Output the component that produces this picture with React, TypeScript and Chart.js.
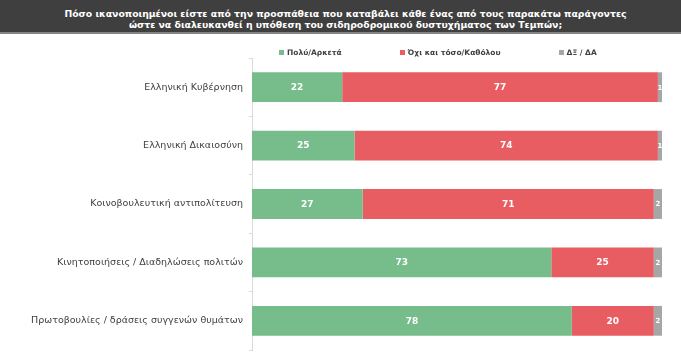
import React, { useEffect, useRef } from "react";
import { Chart, registerables } from "chart.js";

Chart.register(...registerables);

const titleLines = [
  "Πόσο ικανοποιημένοι είστε από την προσπάθεια που καταβάλει κάθε ένας από τους παρακάτω παράγοντες",
  "ώστε να διαλευκανθεί η υπόθεση του σιδηροδρομικού δυστυχήματος των Τεμπών;",
];

const categories = [
  "Ελληνική Κυβέρνηση",
  "Ελληνική Δικαιοσύνη",
  "Κοινοβουλευτική αντιπολίτευση",
  "Κινητοποιήσεις / Διαδηλώσεις πολιτών",
  "Πρωτοβουλίες / δράσεις συγγενών θυμάτων",
];

const seriesNames = ["Πολύ/Αρκετά", "Όχι και τόσο/Καθόλου", "ΔΞ / ΔΑ"];
const muchValues = [22, 25, 27, 73, 78];
const notMuchValues = [77, 74, 71, 25, 20];
const dkValues = [1, 1, 2, 2, 2];
const seriesColors = ["#77bd8b", "#e85d61", "#a6a6a6"];

const FONT = '"DejaVu Sans", sans-serif';

const valueLabels = {
  id: "valueLabels",
  afterDatasetsDraw(chart: any) {
    const ctx = chart.ctx;
    ctx.save();
    ctx.fillStyle = "#ffffff";
    ctx.textAlign = "center";
    ctx.textBaseline = "middle";
    chart.data.datasets.forEach((ds: any, i: number) => {
      const meta = chart.getDatasetMeta(i);
      ctx.font = i === 2 ? `bold 7px ${FONT}` : `bold 9px ${FONT}`;
      meta.data.forEach((el: any, j: number) => {
        const p = el.getProps(["x", "base", "y"], true);
        ctx.fillText(String(ds.data[j]), (p.x + p.base) / 2, p.y + 0.5);
      });
    });
    ctx.restore();
  },
};

export default function App() {
  const canvasRef = useRef<HTMLCanvasElement | null>(null);

  useEffect(() => {
    document.body.style.margin = "0";
    const canvas = canvasRef.current;
    if (!canvas) return;
    const values = [muchValues, notMuchValues, dkValues];
    const chart = new Chart(canvas, {
      type: "bar",
      data: {
        labels: categories,
        datasets: seriesNames.map((name, i) => ({
          label: name,
          data: values[i],
          backgroundColor: seriesColors[i],
          borderWidth: 0,
          categoryPercentage: 1,
          barPercentage: 0.51,
        })),
      },
      options: {
        indexAxis: "y",
        animation: false,
        responsive: false,
        maintainAspectRatio: false,
        layout: { padding: { top: 58, bottom: 12, left: 0, right: 19 } },
        plugins: {
          legend: { display: false },
          tooltip: { enabled: false },
          title: { display: false },
        },
        scales: {
          x: {
            stacked: true,
            display: false,
            min: 0,
            max: 100,
          },
          y: {
            stacked: true,
            afterFit: (scale: any) => {
              scale.width = 252;
            },
            grid: {
              offset: true,
              drawOnChartArea: false,
              tickLength: 3,
              color: "#d9d9d9",
            },
            border: { color: "#d9d9d9", width: 1 },
            ticks: {
              padding: 6,
              color: "#404040",
              font: { family: FONT, size: 9.5 },
            },
          },
        },
      },
      plugins: [valueLabels],
    });
    return () => chart.destroy();
  }, []);

  return (
    <div style={{ position: "relative", width: 681, height: 362, overflow: "hidden", background: "#fff" }}>
      <style>{"body{margin:0}"}</style>
      <canvas
        ref={canvasRef}
        width={681}
        height={362}
        style={{ position: "absolute", left: 0, top: 0, width: 681, height: 362 }}
      />
      <div
        style={{
          position: "absolute",
          left: 0,
          top: 0,
          width: 681,
          height: 34,
          background: "#3f3f3f",
          borderBottom: "2px solid #858585",
          color: "#ffffff",
          fontFamily: FONT,
          fontWeight: "bold",
          fontSize: 9.3,
          lineHeight: "11px",
          textAlign: "center",
          paddingTop: 8,
          paddingLeft: 10,
          boxSizing: "border-box",
        }}
      >
        {titleLines.map((t, i) => (
          <div key={i} style={{ whiteSpace: "nowrap" }}>{t}</div>
        ))}
      </div>
      <div
        style={{
          position: "absolute",
          left: 279,
          top: 47,
          display: "flex",
          gap: 58,
          fontFamily: FONT,
          fontWeight: "bold",
          fontSize: 7.5,
          color: "#404040",
          lineHeight: "11px",
        }}
      >
        {seriesNames.map((n, i) => (
          <div key={i} style={{ display: "flex", alignItems: "center", whiteSpace: "nowrap" }}>
            <span style={{ display: "inline-block", width: 5, height: 5, background: seriesColors[i], marginRight: 3 }} />
            <span>{n}</span>
          </div>
        ))}
      </div>
    </div>
  );
}
